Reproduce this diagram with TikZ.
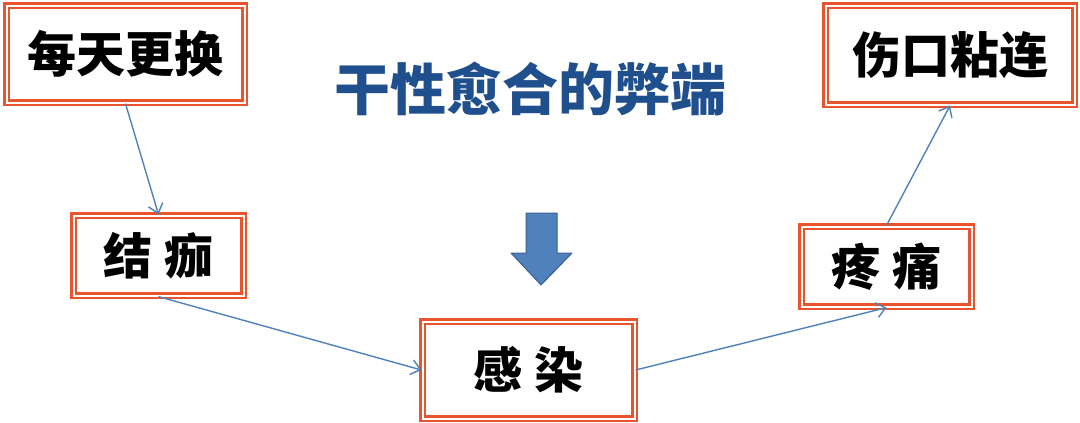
\documentclass[tikz,border=0pt]{standalone}
\usepackage{fontspec}
\newfontfamily\cjk{Noto Sans CJK SC}
\usetikzlibrary{arrows.meta}
\definecolor{boxred}{RGB}{234,84,44}
\definecolor{titleblue}{RGB}{31,79,141}
\definecolor{linkblue}{RGB}{79,129,189}
\definecolor{arrowedge}{RGB}{56,96,146}
\tikzset{
  box/.style={draw=boxred, double=white, line width=2.2pt, double distance=2pt,
    fill=white, inner sep=0pt, font=\cjk\bfseries\fontsize{49}{49}\selectfont},
  link/.style={draw=linkblue, line width=1.4pt, -{Straight Barb[length=9pt,width=15pt,line width=1.4pt]}}
}
\begin{document}
\begin{tikzpicture}[x=1pt,y=-1pt]
\useasboundingbox (0,0) rectangle (1080,423);
\node[box, minimum width=238pt, minimum height=97pt] (b1) at (125.5,54) {每天更换};
\node[box, minimum width=170pt, minimum height=80pt] (b2) at (158.5,255.5) {结 痂};
\node[box, minimum width=212pt, minimum height=97pt] (b3) at (528.5,370) {感 染};
\node[box, minimum width=170pt, minimum height=80pt] (b4) at (886.5,266.5) {疼 痛};
\node[box, minimum width=249pt, minimum height=99pt] (b5) at (950,55) {伤口粘连};
\node[font=\cjk\bfseries\fontsize{56}{56}\selectfont, text=titleblue] (title) at (530,89) {干性愈合的弊端};
\draw[fill=linkblue, draw=arrowedge, line width=1pt, line join=round]
  (526,213) -- (557,213) -- (557,253) -- (572,253) -- (541,285) -- (511,253) -- (526,253) -- cycle;
\draw[link] (b1.south) -- (b2.north);
\draw[link] (b2.south) -- (b3.west);
\draw[link] (b3.east) -- (b4.south);
\draw[link] (b4.north) -- (b5.south);
\end{tikzpicture}
\end{document}
